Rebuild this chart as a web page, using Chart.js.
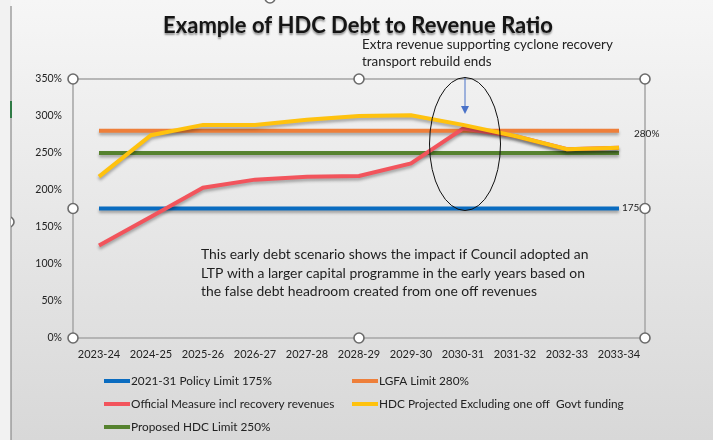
<!DOCTYPE html>
<html>
<head>
<meta charset="utf-8">
<script src="https://cdn.jsdelivr.net/npm/chart.js@4/dist/chart.umd.min.js"></script>
<style>
    html, body { margin: 0; padding: 0; background: #ececec; }
    #wrap { width: 713px; height: 440px; position: relative; }
</style>
</head>
<body>
<div id="wrap"><canvas id="chart" width="713" height="440"></canvas></div>
<script>
const years = ['2023-24', '2024-25', '2025-26', '2026-27', '2027-28', '2028-29', '2029-30', '2030-31', '2031-32', '2032-33', '2033-34']

const policyLimit = [175, 175, 175, 175, 175, 175, 175, 175, 175, 175, 175]
const lgfaLimit = [280, 280, 280, 280, 280, 280, 280, 280, 280, 280, 280]
const officialMeasure = [125, 164, 203, 214, 218, 219, 236, 283, 273, 255, 257]
const projectedExclGovt = [218, 274, 288, 288, 295, 300, 301, 288, 273, 255, 257]
const proposedLimit = [250, 250, 250, 250, 250, 250, 250, 250, 250, 250, 250]

const yTicks = [0, 50, 100, 150, 200, 250, 300, 350]

const seriesNames = [
    '2021-31 Policy Limit 175%',
    'LGFA Limit 280%',
    'Official Measure incl recovery revenues',
    'HDC Projected Excluding one off  Govt funding',
    'Proposed HDC Limit 250%'
]
const seriesColors = ['#0a6cc0', '#ee7f3a', '#f2545c', '#ffc20e', '#56822f']

const FONT = 'Lato, "Open Sans", sans-serif'

const line = (i, data, order) => ({
    label: seriesNames[i],
    data: data,
    borderColor: seriesColors[i],
    backgroundColor: seriesColors[i],
    borderWidth: 4,
    pointRadius: 0,
    tension: 0,
    order: order
})

const handle = (ctx, x, y) => {
    ctx.beginPath()
    ctx.arc(x, y, 5, 0, Math.PI * 2)
    ctx.fillStyle = '#ffffff'
    ctx.fill()
    ctx.lineWidth = 1.6
    ctx.strokeStyle = '#6b6b6b'
    ctx.stroke()
}

const decor = {
    id: 'decor',
    beforeDraw: chart => {
        const ctx = chart.ctx
        const g = ctx.createLinearGradient(0, 0, 0, chart.height)
        g.addColorStop(0, '#f6f6f6')
        g.addColorStop(1, '#d8d8d8')
        ctx.save()
        ctx.fillStyle = g
        ctx.fillRect(0, 0, chart.width, chart.height)

        // outer frame edge on the left
        ctx.fillStyle = '#f2f2f2'
        ctx.fillRect(0, 0, 11, chart.height)
        ctx.strokeStyle = '#8a8a8a'
        ctx.lineWidth = 1.2
        ctx.beginPath()
        ctx.moveTo(11, 6)
        ctx.lineTo(11, chart.height)
        ctx.stroke()
        ctx.fillStyle = '#2f7a45'
        ctx.fillRect(10, 101, 2, 17)

        // plot area frame
        const a = chart.chartArea
        ctx.strokeStyle = '#a9a9a9'
        ctx.lineWidth = 1.6
        ctx.strokeRect(a.left, a.top, a.right - a.left, a.bottom - a.top)
        ctx.restore()
    },
    beforeDatasetsDraw: chart => {
        const ctx = chart.ctx
        ctx.save()
        ctx.shadowColor = 'rgba(0,0,0,0.3)'
        ctx.shadowBlur = 3
        ctx.shadowOffsetY = 2.5
    },
    afterDatasetsDraw: chart => {
        chart.ctx.restore()
    },
    afterDraw: chart => {
        const ctx = chart.ctx
        const a = chart.chartArea
        const x = chart.scales.x
        const y = chart.scales.y
        ctx.save()

        // title
        ctx.font = 'bold 22px ' + FONT
        ctx.textAlign = 'center'
        ctx.textBaseline = 'middle'
        ctx.shadowColor = 'rgba(0,0,0,0.4)'
        ctx.shadowBlur = 2
        ctx.shadowOffsetY = 1.5
        ctx.fillStyle = '#151515'
        ctx.fillText('Example of HDC Debt to Revenue Ratio', 358, 26)
        ctx.shadowColor = 'transparent'

        // annotation
        ctx.textAlign = 'left'
        ctx.font = '13.4px ' + FONT
        ctx.fillStyle = '#222'
        ctx.fillText('Extra revenue supporting cyclone recovery', 362, 45)
        ctx.fillText('transport rebuild ends', 362, 62)

        const cx = x.getPixelForValue(7) + 2
        ctx.strokeStyle = '#4a72c8'
        ctx.lineWidth = 1
        ctx.beginPath()
        ctx.moveTo(cx, a.top - 2)
        ctx.lineTo(cx, 107)
        ctx.stroke()
        ctx.fillStyle = '#4a72c8'
        ctx.beginPath()
        ctx.moveTo(cx - 4, 106)
        ctx.lineTo(cx + 4, 106)
        ctx.lineTo(cx, 114)
        ctx.closePath()
        ctx.fill()

        ctx.strokeStyle = '#111'
        ctx.lineWidth = 1
        ctx.beginPath()
        ctx.ellipse(cx, 144, 35.5, 66.5, 0, 0, Math.PI * 2)
        ctx.stroke()

        // end labels
        ctx.font = '10px ' + FONT
        ctx.fillStyle = '#222'
        ctx.fillText('280%', 634, y.getPixelForValue(lgfaLimit[10]) + 3)
        ctx.fillText('175', 622, y.getPixelForValue(policyLimit[10]) - 1)

        // body note
        ctx.font = '13.9px ' + FONT
        ctx.fillStyle = '#1e1e1e'
        ctx.fillText('This early debt scenario shows the impact if Council adopted an', 201, 255)
        ctx.fillText('LTP with a larger capital programme in the early years based on', 201, 274)
        ctx.fillText('the false debt headroom created from one off revenues', 201, 292)

        // legend, two columns
        const cols = [104, 352]
        const rows = [381, 404, 427]
        ctx.font = '11.8px ' + FONT
        chart.data.datasets.forEach((ds, i) => {
            const lx = cols[i % 2]
            const ly = rows[Math.floor(i / 2)]
            ctx.fillStyle = ds.borderColor
            ctx.fillRect(lx, ly - 2, 26, 4)
            ctx.fillStyle = '#222'
            ctx.fillText(ds.label, lx + 27, ly)
        })

        // selection handles
        const mx = (a.left + a.right) / 2
        const my = (a.top + a.bottom) / 2
        ;[[a.left, a.top], [mx, a.top], [a.right, a.top],
          [a.left, my], [a.right, my],
          [a.left, a.bottom], [mx, a.bottom], [a.right, a.bottom]].forEach(p => handle(ctx, p[0], p[1]))
        ctx.save()
        ctx.beginPath()
        ctx.rect(11, 0, 20, chart.height)
        ctx.clip()
        handle(ctx, 9, 222)
        ctx.restore()
        handle(ctx, 270, -2)
        ctx.restore()
    }
}

new Chart('chart', {
    type: 'line',
    data: {
        labels: years,
        datasets: [
            line(0, policyLimit, 4),
            line(1, lgfaLimit, 3),
            line(2, officialMeasure, 1),
            line(3, projectedExclGovt, 0),
            line(4, proposedLimit, 2)
        ]
    },
    options: {
        responsive: false,
        animation: false,
        events: [],
        layout: { padding: { top: 79, right: 68, left: 0, bottom: 0 } },
        plugins: { legend: { display: false }, tooltip: { enabled: false } },
        scales: {
            x: {
                offset: true,
                grid: { display: false, drawTicks: false },
                border: { display: false },
                ticks: { color: '#222', font: { family: FONT, size: 11 }, padding: 10, maxRotation: 0, autoSkip: false },
                afterFit: s => { s.height = 102 }
            },
            y: {
                min: 0,
                max: 350,
                afterBuildTicks: s => { s.ticks = yTicks.map(v => ({ value: v })) },
                grid: { display: false, drawTicks: false },
                border: { display: false },
                ticks: { color: '#222', font: { family: FONT, size: 10.5 }, padding: 11, callback: v => v + '%' },
                afterFit: s => { s.width = 73 }
            }
        }
    },
    plugins: [decor]
})
</script>
</body>
</html>
